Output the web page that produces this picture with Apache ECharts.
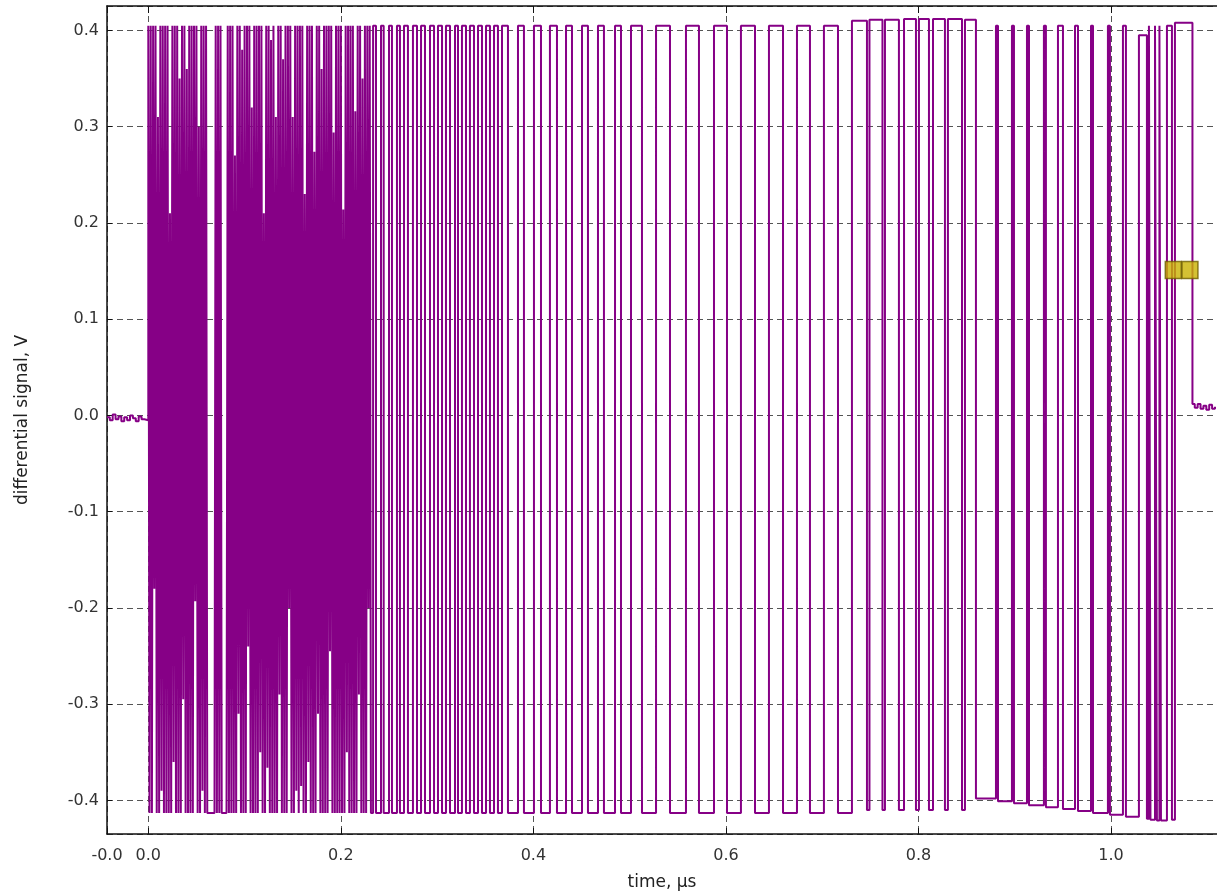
<!DOCTYPE html>
<html>
<head>
<meta charset="utf-8">
<script src="https://cdn.jsdelivr.net/npm/echarts@6/dist/echarts.min.js"></script>
<style>
html,body{margin:0;padding:0;background:#ffffff;}
#chart{width:1217px;height:896px;}
</style>
</head>
<body>
<div id="chart"></div>
<script>
// ---------------- data (times in ns, values in V) ----------------
const HIGH = 0.405;
const LOW = -0.413;

// idle trace before the burst
const preTimesNs = [-42.9, -40, -37, -34, -31, -28, -25, -22, -19, -16, -13, -10, -7, -4, -2];
const preValues  = [-0.002, -0.005, 0.001, -0.004, -0.001, -0.006, -0.002, -0.005, 0.000, -0.003, -0.006, -0.001, -0.004, -0.002, -0.005];

// dense burst: one character per unit interval (1 = high, 0 = low, r = runt)
const burstUiNs = 1.25;
const burstBits =
  "10101r10r0" + "1r101010r0" + "1r1010r01r" + "10r010101r" + "10r01r1010" +
  "0000001010" + "1000001010" + "10r01r10r0" + "101r10r010" + "101r10r01r" +
  "10r010r01r" + "10r0101r10" + "r01r101r10" + "r01r1010r0" + "1r10r01010" +
  "1r10r01010" + "10r01r1010" + "10r01r10r0" + "101r10";
const burstRuntLevels = [
  -0.18, 0.31, -0.39, 0.21, -0.36, 0.35, -0.295, 0.36, -0.193, 0.30,
  -0.39, 0.27, -0.31, 0.38, -0.24, 0.32, -0.35, 0.21, -0.366, 0.39,
  0.31, -0.29, 0.37, -0.2, 0.31, -0.39, -0.385, 0.23, -0.36, 0.274,
  -0.31, 0.36, -0.245, 0.294, 0.214, -0.35, 0.316, -0.29, 0.35, -0.2
];

// slower part of the trace: edge time (ns) and level after the edge (V)
const edgeTimesNs = [
  233.5, 236.5, 241.7, 244.5, 250.0, 253.1, 258.3, 261.4, 265.6, 269.7,
  274.9, 279.1, 283.3, 287.4, 292.6, 296.8, 300.9, 305.1, 309.2, 313.4,
  318.6, 321.7, 325.8, 330.0, 334.1, 338.3, 342.5, 346.6, 350.8, 354.9,
  359.1, 363.2,
  367.4, 373.6, 384.0, 390.2, 400.6, 407.9, 417.2, 424.5, 433.9, 440.1,
  450.5, 456.7, 467.1, 473.3, 484.8, 491.0, 501.4, 512.8,
  527.4, 541.9, 558.5, 572.0, 587.6, 601.1, 615.6, 630.2, 644.7, 659.3,
  673.8, 687.3, 701.8, 716.4, 730.9,
  746.5, 749.1, 762.6, 765.2, 779.7, 785.0, 797.4, 800.5, 810.9, 815.1,
  827.5, 830.6, 845.2, 848.3, 859.7,
  880.5, 882.6, 897.1, 899.2, 912.7, 914.8, 930.3, 932.4, 944.9, 950.1,
  962.6, 965.7, 979.2, 981.3, 996.8, 998.9, 1012.4, 1015.5, 1029.0, 1037.3,
  1039.4, 1041.0, 1045.7, 1047.7, 1050.3, 1051.9, 1058.1, 1063.3, 1066.4, 1084.6
];
const edgeLevels = [
  0.405, -0.413, 0.405, -0.413, 0.405, -0.413, 0.405, -0.413, 0.405, -0.413,
  0.405, -0.413, 0.405, -0.413, 0.405, -0.413, 0.405, -0.413, 0.405, -0.413,
  0.405, -0.413, 0.405, -0.413, 0.405, -0.413, 0.405, -0.413, 0.405, -0.413,
  0.405, -0.413,
  0.405, -0.413, 0.405, -0.413, 0.405, -0.413, 0.405, -0.413, 0.405, -0.413,
  0.405, -0.413, 0.405, -0.413, 0.405, -0.413, 0.405, -0.413,
  0.405, -0.413, 0.405, -0.413, 0.405, -0.413, 0.405, -0.413, 0.405, -0.413,
  0.405, -0.413, 0.405, -0.413, 0.410,
  -0.410, 0.411, -0.410, 0.411, -0.410, 0.412, -0.410, 0.412, -0.410, 0.412,
  -0.410, 0.412, -0.410, 0.411, -0.398,
  0.405, -0.401, 0.405, -0.403, 0.405, -0.405, 0.405, -0.407, 0.405, -0.409,
  0.405, -0.411, 0.405, -0.413, 0.405, -0.415, 0.405, -0.417, 0.395, -0.419,
  0.405, -0.420, 0.405, -0.421, 0.405, -0.421, 0.405, -0.420, 0.408, 0.012
];

// idle trace after the burst
const postTimesNs = [1087, 1090, 1093, 1096, 1099, 1102, 1105, 1108];
const postValues  = [0.008, 0.012, 0.007, 0.010, 0.006, 0.011, 0.007, 0.009];

// the two yellow markers
const markerTimesUs = [1.0647, 1.0820];
const markerValues  = [0.151, 0.151];

// ---------------- build the trace ----------------
const trace = [];
preTimesNs.forEach((t, i) => trace.push([t / 1000, preValues[i]]));
let runtIdx = 0;
for (let i = 0; i < burstBits.length; i++) {
  const c = burstBits[i];
  let v;
  if (c === '1') v = HIGH;
  else if (c === '0') v = LOW;
  else v = burstRuntLevels[runtIdx++];
  trace.push([(i * burstUiNs) / 1000, v]);
}
edgeTimesNs.forEach((t, i) => trace.push([t / 1000, edgeLevels[i]]));
postTimesNs.forEach((t, i) => trace.push([t / 1000, postValues[i]]));

const markers = markerTimesUs.map((t, i) => [t, markerValues[i]]);

// ---------------- chart ----------------
const X_MIN = -0.0429, X_MAX = 1.1101;
const Y_MIN = -0.4349, Y_MAX = 0.4254;
const FONT = 'DejaVu Sans';

const chart = echarts.init(document.getElementById('chart'), null, {renderer: 'canvas'});
chart.setOption({
  animation: false,
  backgroundColor: '#ffffff',
  grid: {left: 107, top: 6, right: 0, bottom: 59, containLabel: false},
  xAxis: [{
    type: 'value', min: X_MIN, max: X_MAX, splitNumber: 6,
    name: 'time, µs', nameLocation: 'middle', nameGap: 40,
    nameTextStyle: {fontFamily: FONT, fontSize: 17, color: '#222'},
    axisLine: {show: true, onZero: false, lineStyle: {color: '#111', width: 1.5}},
    axisTick: {show: true, inside: true, length: 6, lineStyle: {color: '#111', width: 1}},
    axisLabel: {
      showMinLabel: true, showMaxLabel: false, margin: 14,
      fontFamily: FONT, fontSize: 16, color: '#333',
      formatter: v => v.toFixed(1)
    },
    splitLine: {show: true, lineStyle: {color: '#555', width: 1, type: [6, 4]}}
  }, {
    type: 'value', position: 'top', min: X_MIN, max: X_MAX, splitNumber: 6,
    axisLine: {show: true, onZero: false, lineStyle: {color: '#111', width: 1.5}},
    axisTick: {show: true, inside: true, length: 7, lineStyle: {color: '#111', width: 1}},
    axisLabel: {show: false},
    splitLine: {show: false}
  }],
  yAxis: {
    type: 'value', min: Y_MIN, max: Y_MAX, splitNumber: 8,
    name: 'differential signal, V', nameLocation: 'middle', nameGap: 76, nameRotate: 90,
    nameTextStyle: {fontFamily: FONT, fontSize: 17, color: '#222'},
    axisLine: {show: true, onZero: false, lineStyle: {color: '#111', width: 1.5}},
    axisTick: {show: true, inside: true, length: 5, lineStyle: {color: '#111'}},
    axisLabel: {
      showMinLabel: false, showMaxLabel: false, margin: 8,
      fontFamily: FONT, fontSize: 16, color: '#333',
      formatter: v => v.toFixed(1)
    },
    splitLine: {show: true, lineStyle: {color: '#555', width: 1, type: [6, 4]}}
  },
  series: [{
    type: 'line', data: trace, step: 'end', showSymbol: false, symbol: 'none',
    xAxisIndex: 0, clip: true,
    lineStyle: {color: '#860086', width: 2},
    z: 2
  }, {
    type: 'scatter', data: markers, xAxisIndex: 0,
    symbol: 'rect', symbolSize: [16, 17],
    itemStyle: {color: '#c9b200', borderColor: '#6e5e00', borderWidth: 1.5},
    z: 5
  }]
});
</script>
</body>
</html>
